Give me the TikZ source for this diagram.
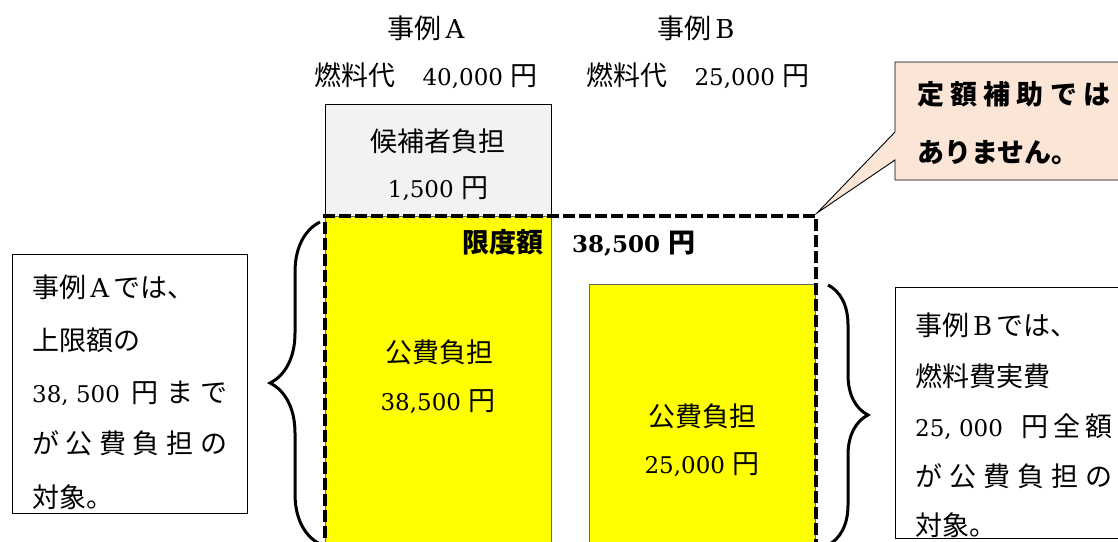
\documentclass[tikz,border=0pt]{standalone}
\usepackage{fontspec}
\setmainfont{DejaVu Serif}
\newfontfamily\cjk{Noto Sans CJK JP}
\usetikzlibrary{decorations.pathreplacing}
\newcommand\D[1]{{\rmfamily\fontsize{23}{23}\selectfont #1}}
\newcommand\FW[1]{\makebox[27pt]{\rmfamily\fontsize{26}{26}\selectfont #1}}
\definecolor{ylw}{HTML}{FFFF00}
\definecolor{gry}{HTML}{F2F2F2}
\definecolor{peach}{HTML}{FBE5D6}
\tikzset{
 txt/.style={inner sep=0pt, anchor=base},
 txtl/.style={inner sep=0pt, anchor=base west},
 thinbox/.style={draw=black, line width=0.9pt, inner sep=0pt, anchor=north west},
 limitline/.style={draw=black, line width=4.5pt, dash pattern=on 12pt off 4pt},
 bracestyle/.style={draw=black, line width=3pt, decorate, decoration={brace, amplitude=#1}},
}
\begin{document}
\begin{tikzpicture}[x=1pt,y=-1pt, font=\cjk\fontsize{27}{30}\selectfont]
\useasboundingbox (0,0) rectangle (1118,541);
\clip (0,0) rectangle (1118,541);

% headers
\node[txt] (caseA) at (428,38) {事例\FW{A}};
\node[txt] (caseB) at (698,38) {事例\FW{B}};
\node[txt] (fuelA) at (426,85) {燃料代　\D{40,000 }円};
\node[txt] (fuelB) at (698,85) {燃料代　\D{25,000 }円};

% bars
\node[thinbox, fill=gry, minimum width=226, minimum height=112] (cand) at (325,104) {};
\node[thinbox, draw=black!60, fill=ylw, minimum width=226, minimum height=340] (pubA) at (325,216) {};
\node[thinbox, draw=black!60, fill=ylw, minimum width=226, minimum height=280] (pubB) at (589,284) {};

% limit frame
\coordinate (limSW) at (325,570);
\coordinate (limNW) at (325,216);
\coordinate (limNE) at (816,216);
\coordinate (limSE) at (816,570);
\draw[limitline] (limSW) -- (limNW) -- (limNE) -- (limSE);

% bar texts
\node[txtl, anchor=base east] (limT) at (544,252) {\bfseries 限度額};
\node[txtl] (limV) at (572,252) {\bfseries\D{38,500 }円};
\node[txt] (candT) at (438,151) {候補者負担};
\node[txt] (candV) at (438,197) {\D{1,500 }円};
\node[txt] (pubAT) at (439,362) {公費負担};
\node[txt] (pubAV) at (438,410) {\D{38,500 }円};
\node[txt] (pubBT) at (702,426) {公費負担};
\node[txt] (pubBV) at (702,473) {\D{25,000 }円};

% braces
\coordinate (lbTop) at (320,222);
\coordinate (lbBot) at (320,544);
\draw[bracestyle=50pt] (lbBot) -- (lbTop);
\coordinate (rbTop) at (828,285);
\coordinate (rbBot) at (828,545);
\draw[bracestyle=40pt] (rbTop) -- (rbBot);

% left note
\node[thinbox, minimum width=235, minimum height=259] (noteA) at (12,254) {};
\node[txtl] (a1) at (32,297) {事例\FW{A}では、};
\node[txtl] (a2) at (32,350) {上限額の};
\node[txtl] (a3) at (32,402) {\makebox[195pt]{\D{38, 500}\hspace{12pt}円\hfill ま\hfill で}};
\node[txtl] (a4) at (32,453) {\makebox[195pt]{が\hfill 公\hfill 費\hfill 負\hfill 担\hfill の}};
\node[txtl] (a5) at (32,507) {対象。};

% right note
\node[thinbox, minimum width=245, minimum height=251] (noteB) at (895,287) {};
\node[txtl] (b1) at (915,335) {事例\FW{B}では、};
\node[txtl] (b2) at (915,386) {燃料費実費};
\node[txtl] (b3) at (915,436) {\makebox[197pt]{\D{25, 000}\hspace{18pt}円\hfill 全\hfill 額}};
\node[txtl] (b4) at (915,486) {\makebox[197pt]{が\hfill 公\hfill 費\hfill 負\hfill 担\hfill の}};
\node[txtl] (b5) at (915,535) {対象。};

% callout
\coordinate (tip) at (817,213);
\coordinate (cNW) at (895,62);
\coordinate (cNE) at (1135,62);
\coordinate (cSE) at (1135,180);
\coordinate (cSW) at (895,180);
\coordinate (cP1) at (895,160);
\coordinate (cP2) at (895,132);
\draw[line width=0.9pt, fill=peach] (cNW) -- (cNE) -- (cSE) -- (cSW) -- (cP1) -- (tip) -- (cP2) -- cycle;
\node[txtl] (c1) at (917,104) {\bfseries\makebox[193pt]{定\hfill 額\hfill 補\hfill 助\hfill で\hfill は}};
\node[txtl] (c2) at (917,162) {\bfseries ありません。};
\end{tikzpicture}
\end{document}
